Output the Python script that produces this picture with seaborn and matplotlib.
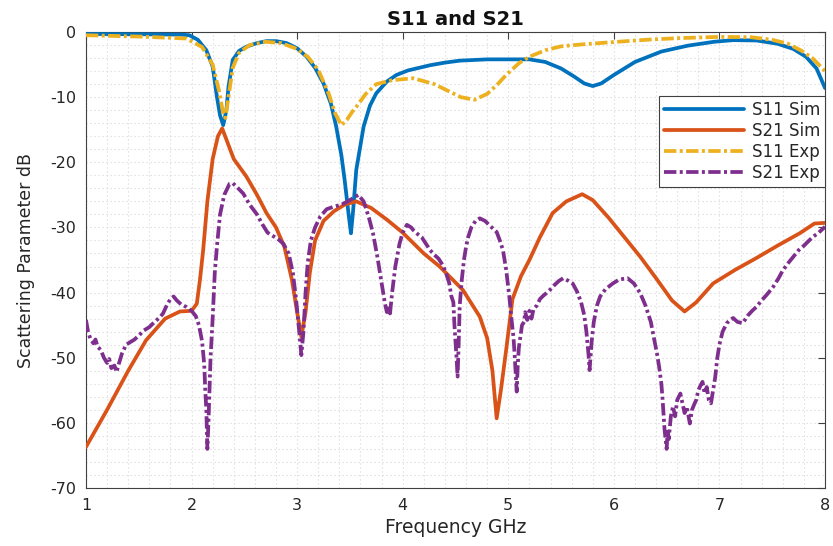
import matplotlib
matplotlib.use("Agg")
import matplotlib.pyplot as plt
import seaborn as sns
import pandas as pd
from matplotlib.ticker import MultipleLocator

# ---------------- data ----------------
s11_sim_x = [1.0, 1.5, 1.9, 1.98, 2.06, 2.14, 2.2, 2.24, 2.27, 2.3, 2.33, 2.35, 2.39, 2.45, 2.52,
             2.62, 2.71, 2.8, 2.9, 3.0, 3.09, 3.17, 3.25, 3.32, 3.37, 3.42, 3.45, 3.49, 3.51, 3.53,
             3.56, 3.63, 3.69, 3.75, 3.85, 3.94, 4.05, 4.26, 4.4, 4.54, 4.8, 5.0, 5.2, 5.35, 5.5,
             5.62, 5.72, 5.8, 5.88, 6.0, 6.2, 6.45, 6.7, 6.95, 7.13, 7.35, 7.55, 7.7, 7.82, 7.92, 8.0]
s11_sim_y = [-0.3, -0.35, -0.4, -0.5, -1.2, -2.8, -5.3, -9.9, -12.8, -14.3, -12.0, -8.4, -4.3, -2.9, -2.25,
             -1.7, -1.4, -1.4, -1.7, -2.5, -3.8, -5.5, -7.9, -11.0, -14.5, -19.0, -22.7, -28.3, -30.9, -27.5,
             -21.2, -14.5, -11.3, -9.4, -7.6, -6.6, -5.9, -5.1, -4.7, -4.4, -4.2, -4.2, -4.2, -4.6, -5.6,
             -6.8, -7.9, -8.3, -7.9, -6.6, -4.6, -3.0, -2.1, -1.5, -1.25, -1.3, -1.8, -2.6, -3.8, -5.6, -8.6]

s21_sim_x = [1.0, 1.2, 1.4, 1.57, 1.75, 1.89, 2.0, 2.05, 2.08, 2.11, 2.15, 2.2, 2.25, 2.29, 2.33,
             2.4, 2.52, 2.62, 2.71, 2.8, 2.88, 2.95, 3.0, 3.04, 3.08, 3.12, 3.17, 3.25, 3.35, 3.45,
             3.56, 3.7, 3.85, 4.0, 4.2, 4.35, 4.57, 4.73, 4.8, 4.85, 4.89, 4.93, 4.98, 5.04, 5.12,
             5.2, 5.3, 5.42, 5.55, 5.7, 5.8, 5.95, 6.1, 6.25, 6.4, 6.55, 6.67, 6.78, 6.94, 7.15,
             7.35, 7.55, 7.76, 7.9, 8.0]
s21_sim_y = [-63.7, -58.0, -52.0, -47.3, -44.0, -42.9, -42.8, -41.7, -38.0, -33.5, -26.0, -19.5, -16.0, -14.8, -16.5,
             -19.5, -22.2, -25.0, -27.8, -30.0, -33.0, -38.0, -43.0, -46.8, -43.0, -37.0, -32.0, -29.0, -27.5, -26.5,
             -26.0, -27.0, -28.8, -30.8, -34.0, -36.0, -39.6, -43.7, -47.0, -52.0, -59.3, -55.0, -48.8, -41.0, -37.5,
             -35.0, -31.5, -27.8, -26.0, -24.9, -25.8, -28.5, -31.5, -34.5, -37.8, -41.2, -42.9, -41.5, -38.6, -36.5,
             -34.7, -32.8, -30.9, -29.4, -29.3]

s11_exp_x = [1.0, 1.5, 1.95, 2.1, 2.2, 2.26, 2.3, 2.32, 2.35, 2.39, 2.45, 2.55, 2.7, 2.85, 3.0,
             3.1, 3.2, 3.3, 3.36, 3.42, 3.47, 3.52, 3.56, 3.65, 3.75, 3.9, 4.1, 4.3, 4.45, 4.55,
             4.68, 4.8, 4.9, 4.98, 5.1, 5.2, 5.35, 5.5, 5.7, 5.95, 6.3, 6.6, 7.0, 7.3, 7.5,
             7.65, 7.78, 7.88, 8.0]
s11_exp_y = [-0.5, -0.7, -1.0, -2.3, -5.0, -9.0, -12.5, -13.2, -10.0, -5.5, -3.2, -2.0, -1.5, -1.7, -2.6,
             -3.8, -5.8, -9.5, -12.5, -14.3, -13.5, -12.3, -11.5, -9.5, -8.0, -7.4, -7.1, -8.0, -9.2, -10.0,
             -10.4, -9.5, -8.0, -6.6, -4.8, -3.8, -2.8, -2.2, -1.9, -1.6, -1.2, -0.95, -0.75, -0.8, -1.2,
             -1.8, -2.9, -4.0, -6.0]

s21_exp_x = [1.0, 1.02, 1.04, 1.07, 1.09, 1.11, 1.14, 1.17, 1.2, 1.22, 1.24, 1.27, 1.29, 1.31, 1.34,
             1.38, 1.42, 1.46, 1.5, 1.55, 1.6, 1.65, 1.7, 1.73, 1.77, 1.8, 1.83, 1.86, 1.9, 1.95,
             2.0, 2.04, 2.07, 2.1, 2.12, 2.13, 2.14, 2.145, 2.15, 2.16, 2.17, 2.18, 2.2, 2.22, 2.24,
             2.27, 2.31, 2.36, 2.39, 2.43, 2.49, 2.55, 2.62, 2.67, 2.72, 2.77, 2.82, 2.87, 2.92, 2.96,
             2.99, 3.02, 3.04, 3.06, 3.08, 3.1, 3.13, 3.17, 3.22, 3.28, 3.35, 3.42, 3.48, 3.53, 3.58,
             3.63, 3.68, 3.72, 3.76, 3.8, 3.83, 3.85, 3.87, 3.88, 3.9, 3.93, 3.97, 4.0, 4.04, 4.08,
             4.1, 4.14, 4.18, 4.22, 4.26, 4.3, 4.34, 4.38, 4.41, 4.44, 4.46, 4.48, 4.49, 4.5, 4.51,
             4.52, 4.53, 4.54, 4.56, 4.58, 4.6, 4.62, 4.65, 4.69, 4.73, 4.78, 4.83, 4.89, 4.92, 4.95,
             4.98, 5.01, 5.03, 5.05, 5.06, 5.07, 5.08, 5.09, 5.1, 5.11, 5.13, 5.15, 5.16, 5.18, 5.2,
             5.22, 5.24, 5.27, 5.3, 5.33, 5.36, 5.4, 5.44, 5.48, 5.52, 5.57, 5.61, 5.65, 5.69, 5.72,
             5.74, 5.76, 5.77, 5.79, 5.81, 5.84, 5.87, 5.92, 5.99, 6.05, 6.13, 6.19, 6.25, 6.3, 6.35,
             6.38, 6.41, 6.43, 6.45, 6.46, 6.47, 6.48, 6.49, 6.5, 6.51, 6.52, 6.54, 6.56, 6.58, 6.6,
             6.63, 6.65, 6.67, 6.69, 6.72, 6.74, 6.76, 6.78, 6.8, 6.82, 6.84, 6.86, 6.88, 6.9, 6.92,
             6.94, 6.96, 6.98, 7.0, 7.03, 7.07, 7.1, 7.13, 7.17, 7.22, 7.27, 7.31, 7.35, 7.4, 7.45,
             7.51, 7.56, 7.6, 7.65, 7.7, 7.75, 7.8, 7.85, 7.89, 7.94, 8.0]
s21_exp_y = [-44.2, -46.0, -47.0, -47.8, -47.2, -48.3, -48.8, -50.0, -50.8, -50.2, -51.6, -51.2, -52.2, -51.0, -49.4,
             -48.0, -47.6, -47.2, -46.6, -45.8, -45.3, -44.5, -43.8, -43.2, -41.8, -41.0, -40.6, -41.2, -41.8, -42.2,
             -42.8, -43.6, -45.0, -47.5, -51.0, -55.0, -58.0, -61.0, -64.0, -60.0, -55.0, -50.0, -44.0, -37.0, -33.0,
             -28.0, -25.0, -23.3, -23.2, -23.8, -24.8, -26.5, -28.0, -29.5, -30.8, -31.3, -31.8, -32.5, -34.0, -37.0,
             -41.0, -46.0, -49.6, -46.0, -40.0, -35.5, -32.0, -30.0, -28.3, -27.2, -26.8, -26.5, -26.0, -25.5, -25.0,
             -26.0, -28.5, -31.0, -34.5, -38.5, -41.5, -43.0, -42.0, -43.2, -40.0, -36.0, -32.5, -30.8, -29.6, -30.0,
             -30.4, -31.0, -31.5, -32.5, -33.5, -34.2, -34.8, -35.8, -37.0, -38.5, -40.5, -41.5, -45.0, -47.5, -50.0,
             -52.9, -48.0, -42.0, -38.0, -35.0, -33.0, -31.5, -30.0, -29.0, -28.6, -29.0, -29.8, -30.7, -32.0, -33.5,
             -36.5, -40.6, -44.0, -47.0, -49.5, -52.5, -55.2, -51.0, -48.5, -47.3, -45.0, -44.5, -43.0, -44.2, -42.8,
             -44.0, -42.5, -42.0, -41.0, -40.5, -40.1, -39.5, -38.8, -38.2, -37.8, -38.2, -38.6, -39.8, -41.5, -43.5,
             -46.0, -49.5, -51.9, -47.5, -44.5, -42.0, -40.6, -39.5, -38.6, -38.0, -37.8, -38.6, -40.1, -42.0, -44.5,
             -47.0, -49.5, -51.5, -54.0, -56.0, -58.5, -61.0, -62.5, -64.0, -61.0, -62.5, -59.0, -57.5, -59.0, -56.5,
             -55.5, -57.0, -58.5, -57.5, -60.1, -58.0, -57.2, -56.5, -55.0, -54.3, -53.7, -55.5, -54.5, -56.5, -57.0,
             -55.0, -53.0, -50.0, -48.0, -46.0, -44.7, -44.2, -43.9, -44.5, -44.7, -43.5, -42.8, -42.2, -41.2, -40.3,
             -39.1, -37.8, -36.6, -35.5, -34.5, -33.5, -32.8, -32.0, -31.4, -30.8, -29.9]

series_labels = ["S11 Sim", "S21 Sim", "S11 Exp", "S21 Exp"]
x_ticks = [1, 2, 3, 4, 5, 6, 7, 8]
y_ticks = [0, -10, -20, -30, -40, -50, -60, -70]

# ---------------- style ----------------
sns.set_theme(style="white")
plt.rcParams["font.family"] = ["DejaVu Sans"]
plt.rcParams["axes.unicode_minus"] = False

fig = plt.figure(figsize=(8.33, 5.46), dpi=100)
ax = fig.add_axes([0.1032, 0.1062, 0.8872, 0.8352])

colors = ["#0072BD", "#D95319", "#EDB120", "#7E2F8E"]
dashdot = (3.3, 0.9, 0.8, 0.9)

series = [(s11_sim_x, s11_sim_y), (s21_sim_x, s21_sim_y), (s11_exp_x, s11_exp_y), (s21_exp_x, s21_exp_y)]
for i, ((xs, ys), lab) in enumerate(zip(series, series_labels)):
    df = pd.DataFrame({"f": xs, "s": ys})
    sns.lineplot(data=df, x="f", y="s", ax=ax, sort=False, estimator=None,
                 color=colors[i], linewidth=2.7, label=lab, zorder=3 + i)
    ln = ax.get_lines()[-1]
    if i >= 2:
        ln.set_dashes(dashdot)
        ln.set_dash_capstyle("butt")

ax.set_xlim(1, 8)
ax.set_ylim(-70, 0)
ax.set_xticks(x_ticks)
ax.set_yticks(y_ticks)
ax.set_xticklabels([str(t) for t in x_ticks])
ax.set_yticklabels([str(t) for t in y_ticks])
ax.xaxis.set_minor_locator(MultipleLocator(0.2))
ax.yaxis.set_minor_locator(MultipleLocator(2))

ax.grid(which="both", color="#d6d6d6", linestyle=(0, (1, 2.6)), linewidth=0.8)
ax.set_axisbelow(True)

for sp in ax.spines.values():
    sp.set_color("#404040")
    sp.set_linewidth(0.8)
ax.tick_params(which="major", direction="in", length=5, width=0.8, color="#404040",
               top=True, right=True, labelsize=11.5, labelcolor="#262626", pad=7)
ax.tick_params(which="minor", length=0, top=True, right=True)

ax.set_xlabel("Frequency GHz", fontsize=13.5, color="#262626", labelpad=4)
ax.set_ylabel("Scattering Parameter dB", fontsize=12.5, color="#262626", labelpad=11)
ax.set_title("S11 and S21", fontsize=14, fontweight="bold", color="#111111", pad=5)

leg = ax.legend(loc="upper right", bbox_to_anchor=(1.0, 0.86), borderaxespad=0,
                fontsize=12, frameon=True, fancybox=False, framealpha=1,
                edgecolor="#404040", handlelength=4.8, handletextpad=0.45,
                labelspacing=0.18, borderpad=0.3)
leg.get_frame().set_linewidth(0.8)

fig.savefig("out.png", dpi=100)
